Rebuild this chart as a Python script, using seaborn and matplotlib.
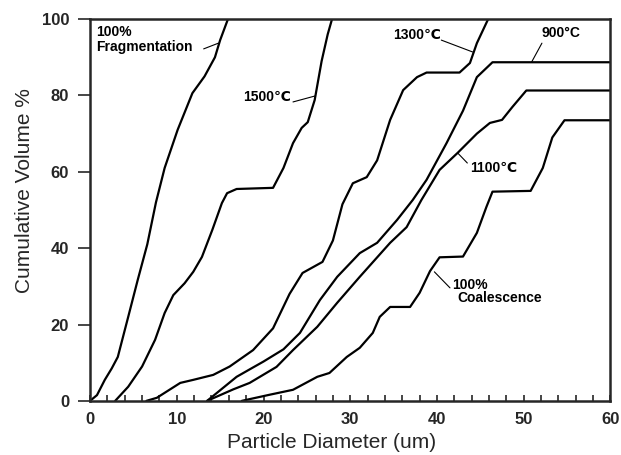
import matplotlib
matplotlib.use("Agg")
import matplotlib.pyplot as plt
import seaborn as sns
import pandas as pd

# ==================================================
# DATA
# ==================================================

frag_x = [0, 0.8, 1.7, 2.5, 3.2, 4.4, 5.5, 6.6, 7.6, 8.6, 10.1, 11.8, 13.2, 14.4, 15.0, 15.9]
frag_y = [0, 1.5, 5.5, 8.5, 11.5, 22, 31.7, 41, 52, 61, 71, 80.6, 85, 90, 94.5, 100]

t1500_x = [2.9, 4.4, 6.0, 7.5, 8.6, 9.6, 10.9, 11.9, 12.9, 14.1, 15.2, 15.8, 16.9, 21.1,
           22.3, 23.4, 24.4, 25.1, 25.9, 26.7, 27.4, 27.9]
t1500_y = [0, 3.7, 9, 16, 23, 27.7, 30.8, 33.8, 37.7, 44.8, 51.8, 54.4, 55.5, 55.8,
           61, 67.5, 71.5, 73, 78.8, 89, 96, 100]

t1300_x = [6.5, 7.7, 10.4, 11.9, 14.2, 16.1, 18.8, 21.1, 23.0, 24.5, 26.8, 28.0, 29.1, 30.3,
           31.9, 33.1, 34.6, 36.1, 37.7, 38.8, 42.6, 43.8, 44.6, 45.9]
t1300_y = [0, 0.8, 4.7, 5.5, 6.8, 9, 13.3, 19, 28, 33.5, 36.4, 42, 51.5, 57,
           58.6, 63, 73.6, 81.4, 84.8, 86, 86, 88.5, 93.7, 100]

t900_x = [13.5, 16.9, 18.6, 20.0, 22.3, 24.2, 26.5, 28.5, 31.1, 33.1, 35.4, 37.2, 38.8,
          41.1, 43.0, 44.6, 46.4, 60]
t900_y = [0, 6.3, 8.5, 10.3, 13.5, 17.8, 26.4, 32.5, 38.7, 41.4, 47.4, 52.6, 57.9,
          67.5, 76, 84.8, 88.7, 88.7]

t1100_x = [13.5, 16.5, 18.4, 21.5, 23.4, 26.2, 28.5, 31.1, 34.6, 36.5, 38.2, 40.3, 42.4,
           44.6, 46.1, 47.5, 48.7, 50.3, 60]
t1100_y = [0, 3, 4.7, 8.9, 13.3, 19.4, 25.7, 32.5, 41.4, 45.5, 52.6, 60.5, 65,
           70, 72.8, 73.6, 77, 81.3, 81.3]

coal_x = [17.5, 20.7, 23.4, 26.2, 27.6, 29.6, 31.1, 32.6, 33.4, 34.6, 36.9, 38.0, 39.2,
          40.3, 43.0, 44.6, 45.7, 46.4, 50.8, 52.2, 53.3, 54.7, 60]
coal_y = [0, 1.6, 2.9, 6.3, 7.3, 11.5, 13.9, 17.8, 22, 24.6, 24.6, 28.3, 34,
          37.6, 37.8, 44, 50.8, 54.8, 55, 61, 69, 73.5, 73.5]

curves = [
    ("100% Fragmentation", frag_x, frag_y),
    ("1500C", t1500_x, t1500_y),
    ("1300C", t1300_x, t1300_y),
    ("900C", t900_x, t900_y),
    ("1100C", t1100_x, t1100_y),
    ("100% Coalescence", coal_x, coal_y),
]

# ==================================================
# STYLE
# ==================================================

sns.set_style("ticks")
plt.rcParams['font.family'] = ['Liberation Sans', 'DejaVu Sans']

fig = plt.figure(figsize=(6.21, 4.55), dpi=100)
ax = fig.add_axes([0.145, 0.119, 0.838, 0.839])

# ==================================================
# CURVES
# ==================================================

for name, xs, ys in curves:
    df = pd.DataFrame({"d": xs, "v": ys})
    sns.lineplot(data=df, x="d", y="v", ax=ax, color="black", linewidth=1.6,
                 sort=False, estimator=None, solid_joinstyle="round",
                 solid_capstyle="round")

# ==================================================
# ANNOTATIONS
# ==================================================

lbl = dict(fontsize=10, fontweight="bold", color="black")
ax.text(0.7, 96.6, "100%", ha="left", va="center", **lbl)
ax.text(0.7, 92.7, "Fragmentation", ha="left", va="center", **lbl)
ax.plot([13.1, 14.8], [92.2, 93.7], color="black", linewidth=0.8)

ax.text(17.6, 79.6, "1500\u2103", ha="left", va="center", **lbl)
ax.plot([23.4, 26.0], [78.3, 79.9], color="black", linewidth=0.8)

ax.text(34.9, 95.8, "1300\u2103", ha="left", va="center", **lbl)
ax.plot([40.5, 44.1], [94.5, 91.4], color="black", linewidth=0.8)

ax.text(52.1, 96.3, "900\u00b0C", ha="left", va="center", **lbl)
ax.plot([52.1, 50.9], [93.7, 88.7], color="black", linewidth=0.8)

ax.text(43.8, 61.0, "1100\u2103", ha="left", va="center", **lbl)
ax.plot([43.5, 42.4], [62.3, 64.9], color="black", linewidth=0.8)

ax.text(41.8, 30.4, "100%", ha="left", va="center", **lbl)
ax.text(42.3, 27.0, "Coalescence", ha="left", va="center", **lbl)
ax.plot([41.5, 39.7], [29.6, 33.8], color="black", linewidth=0.8)

# ==================================================
# AXES
# ==================================================

ax.set_xlim(0, 60)
ax.set_ylim(0, 100)
ax.set_xticks([0, 10, 20, 30, 40, 50, 60])
ax.set_xticks(range(0, 61, 2), minor=True)
ax.set_yticks([0, 20, 40, 60, 80, 100])

ax.tick_params(axis="x", which="both", direction="in", length=4, width=1.2,
               labelsize=12, pad=8)
ax.tick_params(axis="y", which="major", direction="out", length=9, width=1.2,
               labelsize=12, pad=6)
for t in ax.get_xticklabels() + ax.get_yticklabels():
    t.set_fontweight("bold")

for sp in ax.spines.values():
    sp.set_visible(True)
    sp.set_linewidth(1.8)

ax.set_xlabel("Particle Diameter (um)", fontsize=15)
ax.set_ylabel("Cumulative Volume %", fontsize=15)
ax.xaxis.set_label_coords(0.465, -0.085)
ax.yaxis.set_label_coords(-0.108, 0.55)

plt.savefig("out.png", dpi=100)
